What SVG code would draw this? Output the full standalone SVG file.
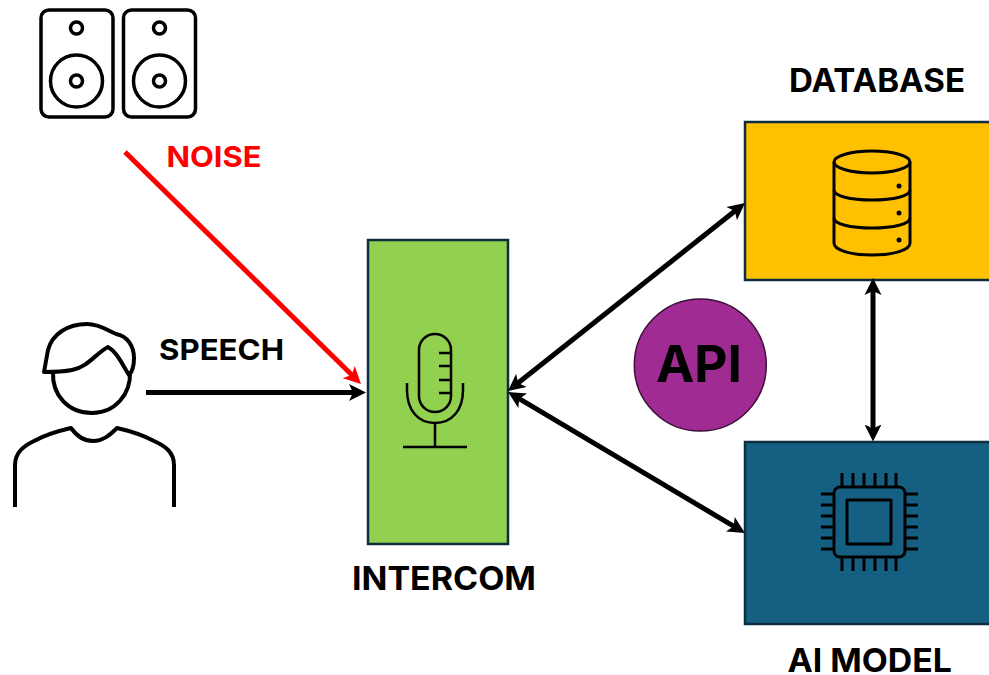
<svg xmlns="http://www.w3.org/2000/svg" width="989" height="675" viewBox="0 0 989 675">
<style>
text{font-family:"Inter","Liberation Sans",sans-serif;font-weight:700;fill:#000}
.ic{fill:none;stroke:#000;stroke-width:3;stroke-linejoin:round}
.box{stroke:#0f2d40;stroke-width:2.500}
.c{fill:none;stroke:#000;stroke-width:5}
</style>
<defs>
<marker id="a" markerUnits="userSpaceOnUse" markerWidth="18" markerHeight="18" refX="11" refY="9" orient="auto-start-reverse"><path d="M0 0.500L17 9L0 17.500L4 9Z" fill="#000"/></marker>
<marker id="r" markerUnits="userSpaceOnUse" markerWidth="18" markerHeight="18" refX="11" refY="9" orient="auto"><path d="M0 0.500L17 9L0 17.500L4 9Z" fill="#f00"/></marker>
</defs>
<rect width="989" height="675" fill="#fff"/>
<g id="speakers" class="ic" style="stroke-width:3.500">
<rect x="41" y="10" width="72" height="107" rx="8"/><circle cx="76.500" cy="28" r="6"/><circle cx="76.500" cy="81" r="26"/><circle cx="76.500" cy="81" r="6"/>
<rect x="123.500" y="10" width="72" height="107" rx="8"/><circle cx="159.500" cy="28" r="6"/><circle cx="159.500" cy="81" r="26"/><circle cx="159.500" cy="81" r="6"/>
</g>
<g id="person" class="ic" style="stroke-width:4">
<path d="M53 372C52 395 68 413 92 413C115 413 131 394 130 372"/>
<path d="M44 372L48 350C52 334 68 324 87 324C100 324 108 331 116 334C128 336 134 347 134 358C134 366 132 372 129 375C122 364 117 352 108 347C95 354 88 367 72 370C62 372 52 372 44 372Z"/>
<path d="M15 507V465C15 452 24 446 34 441C45 435 58 431 71 428C76 435 84 441 93 441C103 441 110 435 117 428C130 431 143 435 154 441C165 446 174 452 174 465V507"/>
</g>
<g id="intercom">
<rect class="box" x="368" y="240" width="140" height="304" fill="#92D050"/>
<g class="ic" style="stroke-width:2.500">
<rect x="419" y="334" width="32" height="78" rx="16"/>
<path d="M439 353H451M439 366H451M439 380H451M439 393H451"/>
<path d="M407 383V390C407 410 418 423 435 423C452 423 463 410 463 390V383"/>
<path d="M435 423V447M403 447H467"/>
</g>
<text x="352" y="590" font-size="32" textLength="184" lengthAdjust="spacingAndGlyphs">INTERCOM</text>
</g>
<g id="database">
<rect class="box" x="745" y="122" width="246" height="158" fill="#FFC000"/>
<g class="ic">
<ellipse cx="872" cy="162" rx="38" ry="11"/>
<path d="M834 162V243C834 250 850 255 872 255C894 255 910 250 910 243V162"/>
<path d="M834 190C834 196 850 200 872 200C894 200 910 196 910 190"/>
<path d="M834 218C834 224 850 228 872 228C894 228 910 224 910 218"/>
</g>
<circle cx="899" cy="186" r="2.500"/><circle cx="899" cy="213" r="2.500"/><circle cx="899" cy="240" r="2.500"/>
<text x="789" y="92" font-size="32" textLength="176" lengthAdjust="spacingAndGlyphs">DATABASE</text>
</g>
<g id="ai-model">
<rect class="box" x="745" y="442" width="246" height="182" fill="#156082"/>
<g class="ic">
<rect x="834" y="487" width="71" height="70" rx="6"/>
<rect x="847" y="500" width="44" height="44"/>
<path d="M842 473V487M853 473V487M864 473V487M875 473V487M886 473V487M896 473V487M842 557V571M853 557V571M864 557V571M875 557V571M886 557V571M896 557V571M821 494H834M821 505H834M821 516H834M821 527H834M821 538H834M821 549H834M905 494H918M905 505H918M905 516H918M905 527H918M905 538H918M905 549H918"/>
</g>
<text x="787.500" y="672" font-size="33" textLength="164.500" lengthAdjust="spacingAndGlyphs">AI MODEL</text>
</g>
<g id="api">
<circle cx="700.300" cy="365" r="66" fill="#A02B93" stroke="#3d1038" stroke-width="1.500"/>
<text x="656" y="382" font-size="51" textLength="86" lengthAdjust="spacingAndGlyphs">API</text>
</g>
<g id="connectors">
<path class="c" d="M146 392.500H360" marker-end="url(#a)"/>
<path class="c" style="stroke:#f00" d="M125 152L356.700 379.800" marker-end="url(#r)"/>
<path class="c" d="M512.700 387.300L740.300 206.700" marker-start="url(#a)" marker-end="url(#a)"/>
<path class="c" d="M513.200 395.100L739.800 529.900" marker-start="url(#a)" marker-end="url(#a)"/>
<path class="c" d="M873 284V435.500" marker-start="url(#a)" marker-end="url(#a)"/>
</g>
<text x="166.500" y="166.500" font-size="29" textLength="95" lengthAdjust="spacingAndGlyphs" style="fill:#f00">NOISE</text>
<text x="159" y="360" font-size="29" textLength="125" lengthAdjust="spacingAndGlyphs">SPEECH</text>
</svg>
